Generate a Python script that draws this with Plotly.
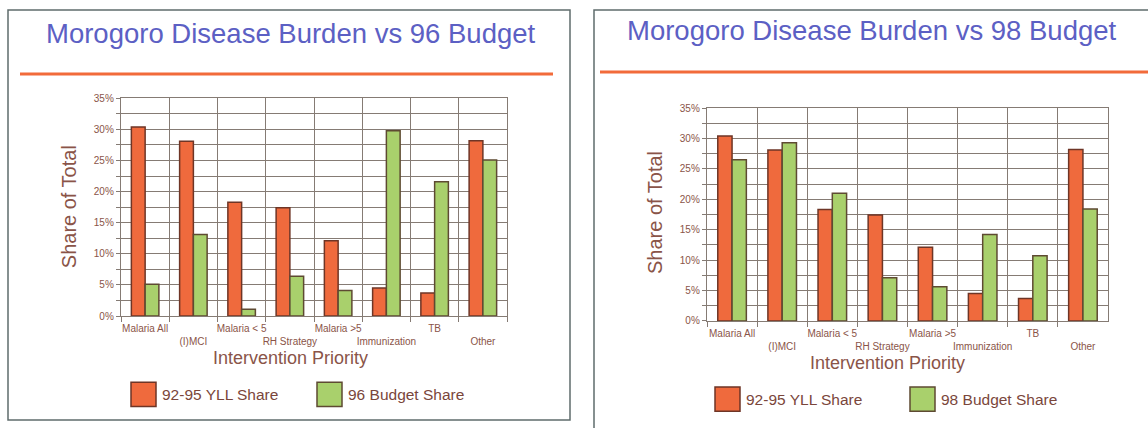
import plotly.graph_objects as go

W, H = 1148, 428

# ---- data ----
categories = ["Malaria All", "(I)MCI", "Malaria < 5", "RH Strategy",
              "Malaria >5", "Immunization", "TB", "Other"]
tick_labels = ["Malaria All", "<br>(I)MCI", "Malaria < 5", "<br>RH Strategy",
               "Malaria >5", "<br>Immunization", "TB", "<br>Other"]
yll_share = [30.4, 28.1, 18.3, 17.4, 12.1, 4.5, 3.7, 28.2]
budget96_share = [5.1, 13.1, 1.1, 6.4, 4.1, 29.8, 21.6, 25.1]
budget98_share = [26.5, 29.3, 21.0, 7.1, 5.6, 14.2, 10.7, 18.4]
series_names_left = ["92-95 YLL Share", "96 Budget Share"]
series_names_right = ["92-95 YLL Share", "98 Budget Share"]
titles = ["Morogoro Disease Burden vs 96 Budget", "Morogoro Disease Burden vs 98 Budget"]
x_title = "Intervention Priority"
y_title = "Share of Total"

RED, RED_LINE = "#ef6a3d", "#6e3526"
GREEN, GREEN_LINE = "#a9d06c", "#5e4a32"
GRID = "#857b74"
TXT = "#8a5448"
TITLE_C = "#5c60c4"
FONT = "Liberation Sans, Arial, sans-serif"


def px(x):
    return x / W


def py(y):
    return 1 - y / H


fig = go.Figure()

for i, (budget, names) in enumerate([(budget96_share, series_names_left),
                                      (budget98_share, series_names_right)]):
    xa = "x" if i == 0 else "x2"
    ya = "y" if i == 0 else "y2"
    fig.add_trace(go.Bar(x=categories, y=yll_share, name=names[0], xaxis=xa, yaxis=ya,
                         marker=dict(color=RED, line=dict(color=RED_LINE, width=1.5)),
                         showlegend=False))
    fig.add_trace(go.Bar(x=categories, y=budget, name=names[1], xaxis=xa, yaxis=ya,
                         marker=dict(color=GREEN, line=dict(color=GREEN_LINE, width=1.5)),
                         showlegend=False))

xdomains = [[px(121), px(507)], [px(707), px(1108)]]
ydomains = [[py(319), py(95)], [py(324), py(105)]]

for i in range(2):
    sx = "" if i == 0 else "2"
    xaxis = dict(domain=xdomains[i], type="category", categoryorder="array",
                 categoryarray=categories, tickvals=categories, ticktext=tick_labels,
                 tickson="boundaries", showgrid=True, gridcolor=GRID, gridwidth=1.4,
                 ticks="outside", ticklen=5, tickcolor=GRID, tickwidth=1.4,
                 ticklabelstandoff=3,
                 showline=True, linecolor=GRID, linewidth=1.4, mirror=True,
                 tickfont=dict(family=FONT, size=10, color=TXT), tickangle=0,
                 anchor="y" + sx, fixedrange=True, range=[-0.5, 7.5])
    yaxis = dict(domain=ydomains[i], range=[0, 35], dtick=5, ticksuffix="%",
                 showgrid=True, gridcolor=GRID, gridwidth=1.4,
                 minor=dict(dtick=2.5, showgrid=True, gridcolor=GRID, gridwidth=1.4,
                            ticks="outside", ticklen=4, tickcolor=GRID),
                 ticks="outside", ticklen=4, tickcolor=GRID, tickwidth=1.4,
                 showline=True, linecolor=GRID, linewidth=1.4, mirror=True,
                 zeroline=False,
                 tickfont=dict(family=FONT, size=10, color=TXT),
                 anchor="x" + sx, fixedrange=True)
    fig.layout["xaxis" + sx] = xaxis
    fig.layout["yaxis" + sx] = yaxis

shapes = []
annotations = []

# panel borders
shapes.append(dict(type="rect", xref="paper", yref="paper", x0=px(8), x1=px(570),
                   y0=py(426), y1=py(4), line=dict(color="#5f6c6c", width=1.5)))
shapes.append(dict(type="rect", xref="paper", yref="paper", x0=px(594), x1=px(1160),
                   y0=py(440), y1=py(4), line=dict(color="#5f6c6c", width=1.5)))
# orange separator lines
shapes.append(dict(type="line", xref="paper", yref="paper", x0=px(20), x1=px(553),
                   y0=py(70), y1=py(70), line=dict(color="#f26b3a", width=3)))
shapes.append(dict(type="line", xref="paper", yref="paper", x0=px(600), x1=px(1148),
                   y0=py(68), y1=py(68), line=dict(color="#f26b3a", width=3)))

# titles
for tx, ty, t in [(291, 28, titles[0]), (872, 25, titles[1])]:
    annotations.append(dict(text=t, x=px(tx), y=py(ty), xref="paper", yref="paper",
                            showarrow=False, xanchor="center", yanchor="middle",
                            font=dict(family=FONT, size=27.5, color=TITLE_C)))

# axis titles
for (ax, ay), (bx, by) in [((69, 207), (290, 362)), ((655, 213), (887, 367))]:
    annotations.append(dict(text=y_title, x=px(ax), y=py(ay), xref="paper", yref="paper",
                            showarrow=False, textangle=-90, xanchor="center", yanchor="middle",
                            font=dict(family=FONT, size=20, color=TXT)))
    annotations.append(dict(text=x_title, x=px(bx), y=py(by), xref="paper", yref="paper",
                            showarrow=False, xanchor="center", yanchor="middle",
                            font=dict(family=FONT, size=18, color=TXT)))

# legends
legend_specs = [
    (series_names_left, [(131, 387), (317, 387)]),
    (series_names_right, [(715, 392), (910, 392)]),
]
for names, poss in legend_specs:
    for (name, (lx, ly), fill, edge) in zip(names, poss, [RED, GREEN], [RED_LINE, GREEN_LINE]):
        shapes.append(dict(type="rect", xref="paper", yref="paper", x0=px(lx), x1=px(lx + 25),
                           y0=py(ly + 25), y1=py(ly), fillcolor=fill,
                           line=dict(color=edge, width=1.5)))
        annotations.append(dict(text=name, x=px(lx + 29), y=py(ly + 12.5), xref="paper",
                                yref="paper", showarrow=False, xanchor="left", yanchor="middle",
                                font=dict(family=FONT, size=15.5, color="#7a463b")))

fig.update_layout(
    width=W, height=H, margin=dict(l=0, r=0, t=0, b=0),
    paper_bgcolor="white", plot_bgcolor="white",
    barmode="group", bargap=0.43, bargroupgap=0,
    shapes=shapes, annotations=annotations, showlegend=False,
    font=dict(family=FONT),
)

fig.write_html("out.html", config={"displayModeBar": False},
               post_script="document.body.style.margin='0';document.body.style.overflow='hidden';")
